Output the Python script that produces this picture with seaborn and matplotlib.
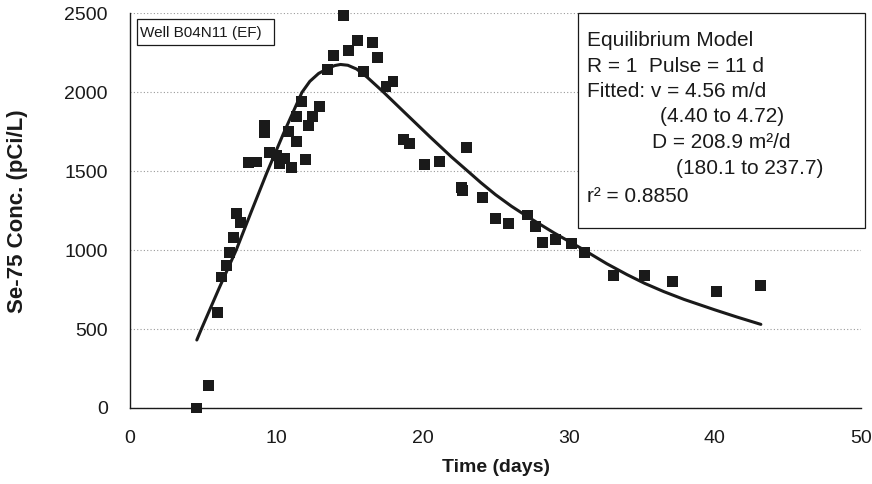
import matplotlib
matplotlib.use("Agg")
import matplotlib.pyplot as plt
from matplotlib.patches import Rectangle
from matplotlib.ticker import MultipleLocator
import pandas as pd
import seaborn as sns

# Observed Se-75 breakthrough at well B04N11 (EF)
time_days = [4.57, 5.36, 6.0, 6.25, 6.58, 6.8, 7.1, 7.26, 7.58, 8.1, 8.68, 9.2, 9.2,
             9.54, 10.05, 10.6, 10.2, 11.05, 10.87, 11.4, 11.37, 11.72, 11.99, 12.21,
             12.51, 12.97, 13.51, 13.93, 14.61, 14.95, 15.57, 15.98, 16.58, 16.94,
             17.51, 17.99, 18.72, 19.09, 20.16, 21.16, 22.67, 22.72, 23.01, 24.08,
             25.0, 25.91, 27.17, 27.74, 28.2, 29.11, 30.18, 31.1, 33.04, 35.2, 37.1,
             40.14, 43.1]
conc = [0, 141, 608, 830, 902, 984, 1083, 1231, 1178, 1553, 1559, 1793, 1745,
        1622, 1600, 1582, 1548, 1525, 1751, 1688, 1846, 1941, 1575, 1793,
        1846, 1909, 2146, 2231, 2490, 2264, 2326, 2135, 2315, 2220,
        2040, 2068, 1703, 1677, 1544, 1561, 1396, 1377, 1650, 1335,
        1202, 1170, 1223, 1149, 1050, 1069, 1044, 984, 837, 837, 801,
        737, 775]

# Equilibrium-model fitted curve
model_time = [4.57, 4.88, 6.1, 7.26, 8.3, 9.36, 10.5, 11.76, 12.3, 12.9, 13.5, 14.0,
              14.4, 14.9, 15.5, 16.2, 17.3, 18.7, 20.5, 22.0, 23.3, 24.0, 25.0,
              26.1, 27.2, 29.0, 30.8, 32.6, 34.0, 35.2, 36.5, 37.9, 40.0, 41.5, 43.15]
model_conc = [431, 500, 760, 1000, 1245, 1491, 1740, 2000, 2070, 2120, 2150, 2170,
              2177, 2172, 2148, 2098, 2005, 1880, 1720, 1590, 1485, 1428, 1352,
              1278, 1212, 1110, 1015, 915, 845, 790, 738, 688, 622, 577, 530]

x_ticks = [0, 10, 20, 30, 40, 50]
y_ticks = [0, 500, 1000, 1500, 2000, 2500]

well_label = "Well B04N11 (EF)"
model_lines = [
    ("Equilibrium Model", 587, 40),
    ("R = 1  Pulse = 11 d", 587, 66.7),
    ("Fitted: v = 4.56 m/d", 587, 91.7),
    ("(4.40 to 4.72)", 660, 116),
    ("D = 208.9 m\u00b2/d", 652, 142.7),
    ("(180.1 to 237.7)", 676, 168.3),
    ("r\u00b2 = 0.8850", 587, 196.7),
]

obs = pd.DataFrame({"t": time_days, "c": conc})
fit = pd.DataFrame({"t": model_time, "c": model_conc})

sns.set_style("white")
plt.rcParams["font.family"] = ["Liberation Sans", "DejaVu Sans"]

W, H = 872, 484
fig = plt.figure(figsize=(W / 100, H / 100), dpi=100)
ax_l, ax_r, ax_t, ax_b = 130, 861, 13.5, 408
ax = fig.add_axes([ax_l / W, 1 - ax_b / H, (ax_r - ax_l) / W, (ax_b - ax_t) / H])

ink = "#1a1a1a"

sns.lineplot(data=fit, x="t", y="c", ax=ax, color=ink, lw=2.2, sort=False,
             estimator=None, zorder=3)
sns.scatterplot(data=obs, x="t", y="c", ax=ax, marker="s", s=62, color=ink,
                edgecolor="none", linewidth=0, zorder=4, clip_on=False)

ax.set_xlim(0, 50)
ax.set_ylim(0, 2500)
ax.set_xticks(x_ticks)
ax.set_yticks(y_ticks)
ax.xaxis.set_minor_locator(MultipleLocator(5))
ax.yaxis.set_minor_locator(MultipleLocator(250))

ax.yaxis.grid(True, which="major", linestyle=(0, (1, 2)), color="#9a9a9a", lw=0.8)
ax.xaxis.grid(False)
ax.set_axisbelow(True)

for side in ("top", "right"):
    ax.spines[side].set_visible(False)
for side in ("left", "bottom"):
    ax.spines[side].set_color(ink)
    ax.spines[side].set_linewidth(1.0)

ax.tick_params(axis="x", which="major", direction="inout", length=13, width=1,
               color=ink, labelsize=14, labelcolor=ink, pad=9)
ax.tick_params(axis="x", which="minor", direction="inout", length=9, width=1, color=ink)
ax.tick_params(axis="y", which="major", direction="out", length=5, width=1,
               color=ink, labelsize=14, labelcolor=ink, pad=11)
ax.tick_params(axis="y", which="minor", direction="out", length=3, width=1, color=ink)

ax.set_xlabel("Time (days)", fontsize=14, fontweight="bold", color=ink, va="center")
ax.set_ylabel("Se-75 Conc. (pCi/L)", fontsize=16, fontweight="bold", color=ink, va="center")
ax.xaxis.set_label_coords(0.5, (ax_b - 467) / (ax_b - ax_t))
ax.yaxis.set_label_coords((18 - ax_l) / (ax_r - ax_l), 0.5)


def fx(px):
    return px / W


def fy(py):
    return 1 - py / H


# well label box
fig.add_artist(Rectangle((fx(136.7), fy(45)), (274 - 136.7) / W, (45 - 19.3) / H,
                         transform=fig.transFigure, facecolor="white",
                         edgecolor=ink, lw=0.9, zorder=5))
fig.text(fx(140.5), fy(32.5), well_label, fontsize=11, color=ink,
         ha="left", va="center", zorder=6)

# model summary box
fig.add_artist(Rectangle((fx(578), fy(228)), (865 - 578) / W, (228 - 13) / H,
                         transform=fig.transFigure, facecolor="white",
                         edgecolor=ink, lw=0.9, zorder=5))
for text, px, py in model_lines:
    fig.text(fx(px), fy(py), text, fontsize=15, color=ink, ha="left", va="center",
             zorder=6)

fig.savefig("out.png", dpi=100, facecolor="white")
